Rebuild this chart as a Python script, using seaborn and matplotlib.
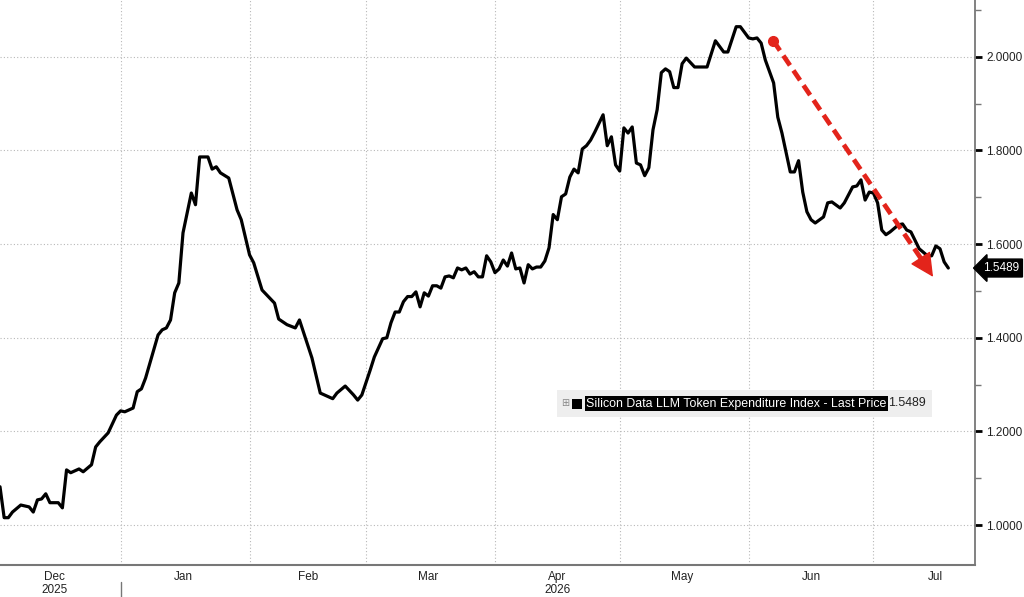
import matplotlib
matplotlib.use("Agg")
import matplotlib.pyplot as plt
import matplotlib.dates as mdates
from matplotlib.patches import Rectangle
from matplotlib.ticker import FixedLocator, FuncFormatter, MultipleLocator
import seaborn as sns
import pandas as pd

# Silicon Data LLM Token Expenditure Index - Last Price
dates = [
    "2025-12-03", "2025-12-04", "2025-12-05", "2025-12-06", "2025-12-08", "2025-12-10",
    "2025-12-11", "2025-12-12", "2025-12-13", "2025-12-14", "2025-12-15", "2025-12-17",
    "2025-12-18", "2025-12-19", "2025-12-20", "2025-12-22", "2025-12-23", "2025-12-25",
    "2025-12-26", "2025-12-27", "2025-12-29", "2025-12-31", "2026-01-01", "2026-01-02",
    "2026-01-04", "2026-01-05", "2026-01-06", "2026-01-07", "2026-01-10", "2026-01-11",
    "2026-01-12", "2026-01-13", "2026-01-14", "2026-01-15", "2026-01-16", "2026-01-17",
    "2026-01-18", "2026-01-19", "2026-01-20", "2026-01-22", "2026-01-23", "2026-01-24",
    "2026-01-25", "2026-01-27", "2026-01-29", "2026-01-30", "2026-02-01", "2026-02-02",
    "2026-02-04", "2026-02-07", "2026-02-08", "2026-02-10", "2026-02-12", "2026-02-13",
    "2026-02-16", "2026-02-18", "2026-02-20", "2026-02-21", "2026-02-22", "2026-02-24",
    "2026-02-26", "2026-02-27", "2026-02-28", "2026-03-02", "2026-03-03", "2026-03-05",
    "2026-03-06", "2026-03-07", "2026-03-08", "2026-03-09", "2026-03-10", "2026-03-11",
    "2026-03-12", "2026-03-13", "2026-03-14", "2026-03-15", "2026-03-16", "2026-03-17",
    "2026-03-18", "2026-03-19", "2026-03-20", "2026-03-21", "2026-03-22", "2026-03-23",
    "2026-03-24", "2026-03-25", "2026-03-26", "2026-03-27", "2026-03-28", "2026-03-29",
    "2026-03-30", "2026-03-31", "2026-04-01", "2026-04-02", "2026-04-03", "2026-04-04",
    "2026-04-05", "2026-04-06", "2026-04-07", "2026-04-08", "2026-04-09", "2026-04-10",
    "2026-04-11", "2026-04-12", "2026-04-13", "2026-04-14", "2026-04-15", "2026-04-16",
    "2026-04-17", "2026-04-18", "2026-04-19", "2026-04-20", "2026-04-21", "2026-04-22",
    "2026-04-23", "2026-04-24", "2026-04-25", "2026-04-27", "2026-04-28", "2026-04-29",
    "2026-04-30", "2026-05-01", "2026-05-02", "2026-05-03", "2026-05-04", "2026-05-05",
    "2026-05-06", "2026-05-07", "2026-05-08", "2026-05-09", "2026-05-10", "2026-05-11",
    "2026-05-12", "2026-05-13", "2026-05-14", "2026-05-15", "2026-05-16", "2026-05-17",
    "2026-05-19", "2026-05-22", "2026-05-24", "2026-05-26", "2026-05-27", "2026-05-29",
    "2026-05-30", "2026-06-01", "2026-06-02", "2026-06-03", "2026-06-04", "2026-06-05",
    "2026-06-07", "2026-06-08", "2026-06-09", "2026-06-11", "2026-06-12", "2026-06-13",
    "2026-06-14", "2026-06-15", "2026-06-16", "2026-06-17", "2026-06-19", "2026-06-20",
    "2026-06-21", "2026-06-23", "2026-06-24", "2026-06-26", "2026-06-27", "2026-06-28",
    "2026-06-29", "2026-06-30", "2026-07-01", "2026-07-02", "2026-07-03", "2026-07-04",
    "2026-07-05", "2026-07-07", "2026-07-08", "2026-07-09", "2026-07-10", "2026-07-12",
    "2026-07-14", "2026-07-15", "2026-07-16", "2026-07-17", "2026-07-18", "2026-07-19",
]
values = [
    1.082, 1.016, 1.016, 1.028, 1.043, 1.039,
    1.028, 1.054, 1.056, 1.067, 1.048, 1.048,
    1.037, 1.118, 1.112, 1.120, 1.114, 1.129,
    1.167, 1.178, 1.197, 1.235, 1.244, 1.242,
    1.250, 1.285, 1.291, 1.314, 1.406, 1.417,
    1.421, 1.438, 1.496, 1.517, 1.624, 1.667,
    1.709, 1.684, 1.786, 1.786, 1.760, 1.765,
    1.752, 1.741, 1.673, 1.652, 1.577, 1.560,
    1.502, 1.474, 1.440, 1.428, 1.421, 1.438,
    1.357, 1.282, 1.274, 1.270, 1.282, 1.297,
    1.278, 1.267, 1.278, 1.331, 1.359, 1.398,
    1.400, 1.432, 1.455, 1.455, 1.477, 1.488,
    1.488, 1.498, 1.466, 1.496, 1.489, 1.511,
    1.511, 1.506, 1.530, 1.532, 1.528, 1.549,
    1.545, 1.549, 1.536, 1.541, 1.530, 1.530,
    1.575, 1.562, 1.539, 1.547, 1.566, 1.553,
    1.581, 1.547, 1.549, 1.517, 1.556, 1.547,
    1.551, 1.551, 1.564, 1.592, 1.663, 1.652,
    1.701, 1.707, 1.743, 1.760, 1.752, 1.803,
    1.810, 1.822, 1.839, 1.876, 1.810, 1.829,
    1.769, 1.756, 1.848, 1.837, 1.850, 1.773,
    1.769, 1.746, 1.763, 1.844, 1.887, 1.966,
    1.974, 1.968, 1.934, 1.934, 1.985, 1.997,
    1.978, 1.978, 2.034, 2.010, 2.010, 2.064,
    2.064, 2.040, 2.038, 2.040, 2.029, 1.993,
    1.944, 1.871, 1.837, 1.754, 1.754, 1.778,
    1.711, 1.669, 1.652, 1.645, 1.658, 1.688,
    1.690, 1.677, 1.688, 1.722, 1.724, 1.737,
    1.694, 1.711, 1.709, 1.688, 1.630, 1.620,
    1.626, 1.641, 1.643, 1.630, 1.626, 1.590,
    1.575, 1.575, 1.596, 1.590, 1.562, 1.5489,
]

series_name = "Silicon Data LLM Token Expenditure Index - Last Price"
last_price = 1.5489

month_labels = ["Dec\n2025", "Jan", "Feb", "Mar", "Apr\n2026", "May", "Jun", "Jul"]
month_label_dates = ["2025-12-16", "2026-01-16", "2026-02-15", "2026-03-16",
                     "2026-04-16", "2026-05-16", "2026-06-16", "2026-07-16"]
month_starts = ["2026-01-01", "2026-02-01", "2026-03-01", "2026-04-01",
                "2026-05-01", "2026-06-01", "2026-07-01"]
y_ticks = [1.0, 1.2, 1.4, 1.6, 1.8, 2.0]

# red trend arrow (annotation)
arrow_start = ("2026-06-06 22:00", 2.034)
arrow_base = ("2026-07-12 18:00", 1.565)
arrow_tip = ("2026-07-15 08:00", 1.530)

df = pd.DataFrame({"date": pd.to_datetime(dates), "value": values})

sns.set_style("white")
plt.rcParams["font.family"] = ["Liberation Sans", "DejaVu Sans"]

W, H = 1024, 597
fig = plt.figure(figsize=(W / 100, H / 100), dpi=100)
ax = fig.add_axes([0, 1 - 565 / H, 975 / W, 565 / H])

sns.lineplot(data=df, x="date", y="value", color="black", lw=2.3, ax=ax)

ax.set_xlim(pd.Timestamp("2025-12-03"), pd.Timestamp("2026-07-25 10:00"))
ax.set_ylim(0.915, 2.121)
ax.set_xlabel("")
ax.set_ylabel("")

# x axis: month boundaries as gridlines, labels in mid-month
ax.xaxis.set_major_locator(FixedLocator(mdates.date2num(pd.to_datetime(month_starts))))
ax.xaxis.set_major_formatter(FuncFormatter(lambda v, p: ""))
ax.set_xticks(mdates.date2num(pd.to_datetime(month_label_dates)), labels=month_labels, minor=True)
ax.tick_params(axis="x", which="major", length=3, color="#777777", width=1)
ax.tick_params(axis="x", which="minor", length=0, pad=4, labelsize=8.5, labelcolor="#222222")

# y axis on the right
ax.yaxis.tick_right()
ax.set_yticks(y_ticks)
ax.yaxis.set_major_formatter(FuncFormatter(lambda v, p: f"{v:.4f}"))
ax.yaxis.set_minor_locator(MultipleLocator(0.1))
ax.tick_params(axis="y", which="major", length=5, width=2, color="black",
               pad=3, labelsize=8.5, labelcolor="#222222")
ax.tick_params(axis="y", which="minor", length=4, width=1, color="#777777")

ax.grid(True, which="major", axis="both", color="#b8b8b8", linestyle=(0, (1, 2)), lw=0.8)

for s in ["top", "left"]:
    ax.spines[s].set_visible(False)
ax.spines["right"].set_color("#777777")
ax.spines["right"].set_linewidth(1.3)
ax.spines["bottom"].set_color("#777777")
ax.spines["bottom"].set_linewidth(1.5)

# year separator below the axis
ax.plot([pd.Timestamp("2026-01-01")] * 2, [-0.030, -0.058], color="#777777", lw=1,
        transform=ax.get_xaxis_transform(), clip_on=False)

# red dashed trend arrow
red = "#e3241b"
ax.plot([pd.Timestamp(arrow_start[0]), pd.Timestamp(arrow_base[0])],
        [arrow_start[1], arrow_base[1]], color=red, lw=3.4,
        linestyle=(0, (2.5, 1.3)), dash_capstyle="butt")
ax.plot(pd.Timestamp(arrow_start[0]), arrow_start[1], "o", color=red, ms=7)
ax.annotate("", xy=(pd.Timestamp(arrow_tip[0]), arrow_tip[1]),
            xytext=(pd.Timestamp(arrow_base[0]), arrow_base[1]),
            arrowprops=dict(arrowstyle="-|>,head_length=1.0,head_width=0.5",
                            color=red, fc=red, lw=1, mutation_scale=15,
                            shrinkA=0, shrinkB=0))

# last price tag on the axis
ax.annotate(f"{last_price:.4f}", xy=(1.0, last_price),
            xycoords=("axes fraction", "data"), xytext=(6, 0),
            textcoords="offset points", ha="left", va="center",
            color="white", fontsize=8.5, annotation_clip=False,
            bbox=dict(boxstyle="larrow,pad=0.25", fc="black", ec="black"))

# legend box
fig.patches.append(Rectangle((557 / W, 1 - 417 / H), 375 / W, 27 / H,
                             transform=fig.transFigure, fc="#eeeeee", ec="none", zorder=0))
ly = 1 - 403.5 / H
fig.text(561 / W, ly, "\u229e", fontsize=7, color="#888888", va="center", ha="left",
         family="DejaVu Sans")
fig.patches.append(Rectangle((572 / W, 1 - 409 / H), 10 / W, 10 / H,
                             transform=fig.transFigure, fc="black", ec="none"))
fig.text(586 / W, ly, series_name, fontsize=8.9, color="white", va="center",
         ha="left", bbox=dict(boxstyle="square,pad=0.1", fc="black", ec="none"))
fig.text(888 / W, ly, f"{last_price:.4f}", fontsize=8.9, color="#222222",
         va="center", ha="left")

fig.savefig("out.png", dpi=100, facecolor="white")
